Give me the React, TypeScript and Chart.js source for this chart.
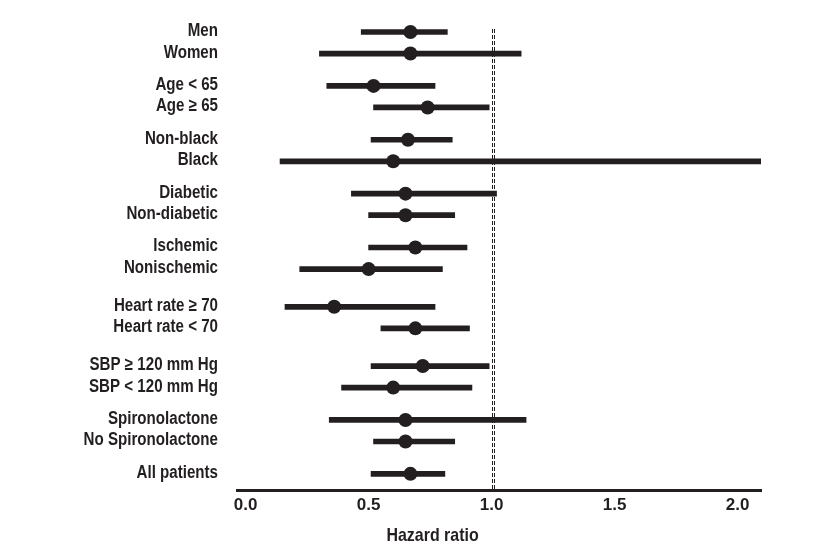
import React, { useEffect, useRef } from "react";
import { Chart, registerables } from "chart.js";

Chart.register(...registerables);

// ---- data ----
const subgroups = [
  "Men",
  "Women",
  "Age < 65",
  "Age ≥ 65",
  "Non-black",
  "Black",
  "Diabetic",
  "Non-diabetic",
  "Ischemic",
  "Nonischemic",
  "Heart rate ≥ 70",
  "Heart rate < 70",
  "SBP ≥ 120 mm Hg",
  "SBP < 120 mm Hg",
  "Spironolactone",
  "No Spironolactone",
  "All patients",
];
const hazardRatio = [0.67, 0.67, 0.52, 0.74, 0.66, 0.6, 0.65, 0.65, 0.69, 0.5, 0.36, 0.69, 0.72, 0.6, 0.65, 0.65, 0.67];
const ciLower = [0.47, 0.3, 0.33, 0.52, 0.51, 0.14, 0.43, 0.5, 0.5, 0.22, 0.16, 0.55, 0.51, 0.39, 0.34, 0.52, 0.51];
const ciUpper = [0.82, 1.12, 0.77, 0.99, 0.84, 2.5, 1.02, 0.85, 0.9, 0.8, 0.77, 0.91, 0.99, 0.92, 1.14, 0.85, 0.81];
const xTicks = [0, 0.5, 1.0, 1.5, 2.0];
const referenceLines = [1.0, 1.011];
const axisTitle = "Hazard ratio";

// ---- layout: blank half-row slots before each subgroup (grouping gaps) ----
const blankSlotsBefore = [0, 3, 5, 3, 5, 3, 5, 3, 5, 3, 6, 3, 6, 3, 5, 3, 5];
const trailingBlankSlots = 3;

const INK = "#231f20";
const FONT = "'Liberation Sans', Arial, sans-serif";
const CONDENSE = 0.84;

function buildSlots() {
  const labels: string[] = [];
  const ci: ([number, number] | null)[] = [];
  const pts: (number | null)[] = [];
  subgroups.forEach((name, i) => {
    for (let b = 0; b < blankSlotsBefore[i]; b++) {
      labels.push("");
      ci.push(null);
      pts.push(null);
    }
    labels.push(name);
    ci.push([ciLower[i], ciUpper[i]]);
    pts.push(hazardRatio[i]);
  });
  for (let b = 0; b < trailingBlankSlots; b++) {
    labels.push("");
    ci.push(null);
    pts.push(null);
  }
  return { labels, ci, pts };
}

function condensedText(ctx: CanvasRenderingContext2D, text: string, x: number, y: number, align: CanvasTextAlign, baseline: CanvasTextBaseline, font: string) {
  ctx.save();
  ctx.translate(x, y);
  ctx.scale(CONDENSE, 1);
  ctx.font = font;
  ctx.fillStyle = INK;
  ctx.textAlign = align;
  ctx.textBaseline = baseline;
  ctx.fillText(text, 0, 0);
  ctx.restore();
}

const overlayPlugin = {
  id: "forestOverlay",
  afterDatasetsDraw(chart: any) {
    const { ctx, chartArea } = chart;
    const xs = chart.scales.x;
    ctx.save();
    ctx.strokeStyle = INK;
    ctx.lineWidth = 1;
    ctx.setLineDash([4, 2]);
    referenceLines.forEach((v) => {
      const px = Math.round(xs.getPixelForValue(v)) + 0.5;
      ctx.beginPath();
      ctx.moveTo(px, chartArea.top - 3);
      ctx.lineTo(px, chartArea.bottom);
      ctx.stroke();
    });
    ctx.restore();
  },
  afterDraw(chart: any) {
    const { ctx } = chart;
    const xs = chart.scales.x;
    const ys = chart.scales.y;
    const labels: string[] = chart.data.labels;
    const labelRight = ys.right - 19;
    labels.forEach((lab, i) => {
      if (!lab) return;
      condensedText(ctx, lab, labelRight, ys.getPixelForValue(i) - 1, "right", "middle", `bold 18px ${FONT}`);
    });
    condensedText(ctx, axisTitle, xs.getPixelForValue(0.76), 541, "center", "alphabetic", `bold 19px ${FONT}`);
  },
};

export default function App() {
  const ref = useRef<HTMLCanvasElement | null>(null);

  useEffect(() => {
    document.body.style.margin = "0";
    const { labels, ci, pts } = buildSlots();
    const chart = new Chart(ref.current as HTMLCanvasElement, {
      type: "bar",
      data: {
        labels,
        datasets: [
          {
            type: "line",
            data: pts as any,
            indexAxis: "y",
            showLine: false,
            pointRadius: 7,
            pointHoverRadius: 7,
            pointBackgroundColor: INK,
            pointBorderColor: INK,
            pointBorderWidth: 0,
            order: 0,
            clip: false as any,
          } as any,
          {
            type: "bar",
            data: ci as any,
            indexAxis: "y",
            backgroundColor: INK,
            borderWidth: 0,
            borderSkipped: false,
            barThickness: 5,
            order: 1,
            clip: { left: 0, right: 0, top: false, bottom: false } as any,
          } as any,
        ],
      },
      options: {
        indexAxis: "y",
        animation: false,
        responsive: false,
        events: [],
        layout: { padding: { top: 32, right: 73, left: 0, bottom: 0 } },
        plugins: { legend: { display: false }, tooltip: { enabled: false } },
        scales: {
          x: {
            type: "linear",
            position: "bottom",
            min: -0.035,
            max: 2.095,
            grid: { display: false, drawTicks: false },
            border: { display: true, width: 3, color: INK },
            afterBuildTicks: (s: any) => {
              s.ticks = xTicks.map((v) => ({ value: v }));
            },
            afterFit: (s: any) => {
              s.height = 64;
            },
            ticks: {
              color: INK,
              padding: 5,
              font: { family: FONT, size: 17, weight: "bold" },
              callback: (v: any) => Number(v).toFixed(1),
            },
          },
          y: {
            type: "category",
            offset: false,
            grid: { display: false, drawTicks: false },
            border: { display: false },
            afterFit: (s: any) => {
              s.width = 237;
            },
            ticks: { display: false, autoSkip: false },
          },
        },
      },
      plugins: [overlayPlugin],
    });
    return () => chart.destroy();
  }, []);

  return (
    <div style={{ width: 834, height: 554, background: "#fff" }}>
      <canvas ref={ref} width={834} height={554} />
    </div>
  );
}
